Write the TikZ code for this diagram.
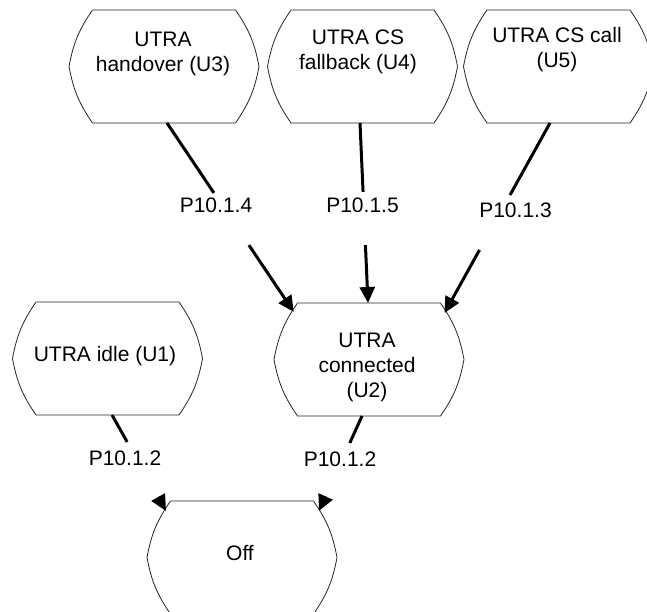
\documentclass[tikz,border=0pt]{standalone}
\usepackage{fontspec}
\setmainfont{Liberation Sans}
\usetikzlibrary{arrows.meta,calc}
\tikzset{
  hexa/.style={minimum width=190pt, minimum height=113pt, inner sep=0pt, outer sep=0pt},
  outline/.style={draw=black!85, line width=0.8pt},
  txt/.style={font=\fontsize{21}{25}\selectfont, inner sep=0pt, anchor=base},
  conn/.style={line width=3pt},
  arr/.style={line width=3pt, -{Triangle[length=16pt,width=15pt]}},
}
\begin{document}
\begin{tikzpicture}[x=1pt,y=-1pt]
\useasboundingbox (0,0) rectangle (647,612);
\fill[white] (0,0) rectangle (647,612);
% state shapes
\node[hexa] (u3) at (164,66.5) {};
\node[hexa] (u4) at (362.5,66.5) {};
\node[hexa] (u5) at (558.5,66.5) {};
\node[hexa] (u1) at (107.5,358.5) {};
\node[hexa] (u2) at (369,359.5) {};
\node[hexa] (off) at (242,557.5) {};
\foreach \n in {u3,u4,u5,u1,u2,off}{
  \draw[outline] ([xshift=23.5pt]\n.north west) -- ([xshift=-23.5pt]\n.north east)
    to[bend left=12] (\n.east)
    to[bend left=12] ([xshift=-23.5pt]\n.south east)
    -- ([xshift=23.5pt]\n.south west)
    to[bend left=12] (\n.west)
    to[bend left=12] ([xshift=23.5pt]\n.north west);
}
% texts
\node[txt] (t3) at (163,47) {\begin{tabular}[t]{@{}c@{}}UTRA\\handover (U3)\end{tabular}};
\node[txt] (t4) at (358,45) {\begin{tabular}[t]{@{}c@{}}UTRA CS\\fallback (U4)\end{tabular}};
\node[txt] (t5) at (557,43) {\begin{tabular}[t]{@{}c@{}}UTRA CS call\\(U5)\end{tabular}};
\node[txt] (t1) at (105,361) {UTRA idle (U1)};
\node[txt] (t2) at (367,347) {\begin{tabular}[t]{@{}c@{}}UTRA\\connected\\(U2)\end{tabular}};
\node[txt] (t0) at (240,560) {Off};
% transition labels
\node[txt] (l4) at (216,213) {P10.1.4};
\node[txt] (l5) at (362.5,213) {P10.1.5};
\node[txt] (l3) at (515.5,218) {P10.1.3};
\node[txt] (l2a) at (125,465) {P10.1.2};
\node[txt] (l2b) at (340,466) {P10.1.2};
% connector end points
\coordinate (s3) at (167,123);   \coordinate (e3) at (293.8,312);
\coordinate (s4) at (360,123);   \coordinate (e4) at (368,303);
\coordinate (s5) at (550,123);   \coordinate (e5) at (444.5,313);
\coordinate (s1) at (112,415);   \coordinate (e1) at (166,511);
\coordinate (s2) at (362,416);   \coordinate (e2) at (319,511);
% connectors
\draw[conn] (s3) -- ($(s3)!0.370!(e3)$);
\draw[arr] ($(s3)!0.646!(e3)$) -- (e3);
\draw[conn] (s4) -- ($(s4)!0.383!(e4)$);
\draw[arr] ($(s4)!0.678!(e4)$) -- (e4);
\draw[conn] (s5) -- ($(s5)!0.379!(e5)$);
\draw[arr] ($(s5)!0.668!(e5)$) -- (e5);
\draw[conn] (s1) -- ($(s1)!0.281!(e1)$);
\draw[arr] ($(s1)!0.855!(e1)$) -- (e1);
\draw[conn] (s2) -- ($(s2)!0.284!(e2)$);
\draw[arr] ($(s2)!0.847!(e2)$) -- (e2);
\end{tikzpicture}
\end{document}
